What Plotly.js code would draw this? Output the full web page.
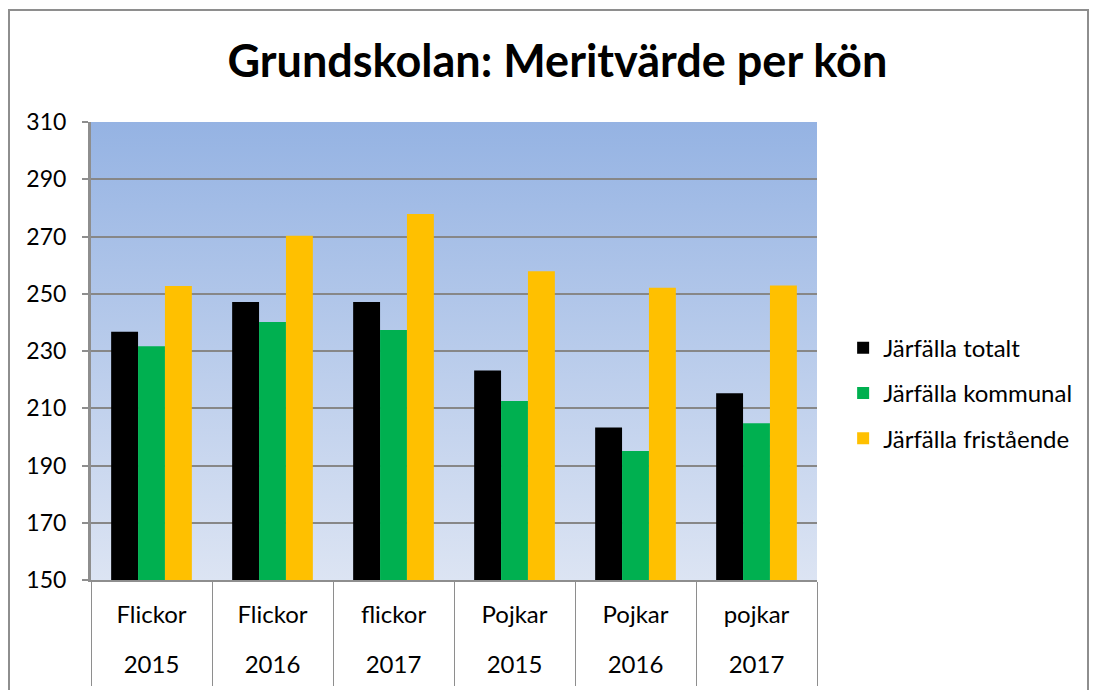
<!DOCTYPE html>
<html>
<head>
<meta charset="utf-8">
<script src="https://cdn.plot.ly/plotly-3.0.1.min.js"></script>
<style>
  html, body { margin: 0; padding: 0; background: #ffffff; }
  #wrap { position: relative; width: 1095px; height: 690px; overflow: hidden; }
  #chart { position: absolute; left: 0; top: 0; width: 1095px; height: 690px; }
  #frame { position: absolute; left: 8px; top: 9px; width: 1081px; height: 700px;
           border: 2px solid #8e8e8e; box-sizing: border-box; pointer-events: none; }
</style>
</head>
<body>
<div id="wrap">
  <div id="chart"></div>
  <div id="frame"></div>
</div>
<script>
const groups = ["Flickor", "Flickor", "flickor", "Pojkar", "Pojkar", "pojkar"];
const years = ["2015", "2016", "2017", "2015", "2016", "2017"];
const seriesNames = ["Järfälla totalt", "Järfälla kommunal", "Järfälla fristående"];
const totalt = [236.7, 247.1, 247.1, 223.2, 203.3, 215.2];
const kommunal = [231.7, 240.1, 237.3, 212.5, 195.1, 204.8];
const friststaende = [252.7, 270.3, 277.9, 257.9, 252.1, 252.9];
const colors = ["#000000", "#00b050", "#ffc000"];

const cats = groups.map((g, i) => g + " " + years[i]);
const seriesValues = [totalt, kommunal, friststaende];

const FONT = "Lato, 'Open Sans', 'DejaVu Sans', sans-serif";

const traces = seriesValues.map((vals, k) => ({
  type: "bar",
  name: seriesNames[k],
  x: cats,
  y: vals,
  marker: { color: colors[k], line: { width: 0 } },
  legendgroup: "g" + k,
  hoverinfo: "x+y+name"
}));

// helper (invisible) trace so the second-row year axis is drawn
traces.push({
  type: "scatter",
  mode: "markers",
  x: years.map((_, i) => i),
  y: years.map(() => null),
  xaxis: "x2",
  yaxis: "y",
  marker: { opacity: 0 },
  showlegend: false,
  hoverinfo: "skip"
});

const gradSvg = '<svg xmlns="http://www.w3.org/2000/svg" width="100" height="100" preserveAspectRatio="none">' +
  '<defs><linearGradient id="g" x1="0" y1="0" x2="0" y2="1">' +
  '<stop offset="0" stop-color="#95b3e3"/><stop offset="1" stop-color="#dce4f3"/>' +
  '</linearGradient></defs><rect width="100" height="100" fill="url(#g)"/></svg>';
const gradUri = "data:image/svg+xml;charset=utf-8," + encodeURIComponent(gradSvg);

const layout = {
  width: 1095,
  height: 690,
  margin: { l: 91, r: 278, t: 122, b: 110, pad: 0 },
  paper_bgcolor: "rgba(0,0,0,0)",
  plot_bgcolor: "rgba(0,0,0,0)",
  font: { family: FONT, size: 20, color: "#000000" },
  title: {
    text: "<b>Grundskolan: Meritvärde per kön</b>",
    font: { family: FONT, size: 45, color: "#000000" },
    x: 0.509, xref: "container", xanchor: "center",
    y: 1 - 61 / 690, yref: "container", yanchor: "middle"
  },
  barmode: "group",
  bargap: 0.333,
  bargroupgap: 0,
  images: [{
    source: gradUri,
    xref: "paper", yref: "paper",
    x: 0, y: 1, sizex: 1, sizey: 1,
    xanchor: "left", yanchor: "top",
    sizing: "stretch", layer: "below"
  }],
  xaxis: {
    type: "category",
    tickmode: "array",
    tickvals: cats,
    ticktext: groups,
    tickson: "boundaries",
    ticks: "outside",
    ticklen: 104,
    tickwidth: 1,
    tickcolor: "#8e8e8e",
    ticklabelstandoff: 12,
    tickfont: { family: FONT, size: 24, color: "#000000" },
    showline: true,
    linecolor: "#8e8e8e",
    linewidth: 2,
    showgrid: false,
    zeroline: false,
    fixedrange: true
  },
  xaxis2: {
    overlaying: "x",
    anchor: "y",
    side: "bottom",
    type: "linear",
    range: [-0.5, groups.length - 0.5],
    autorange: false,
    tickmode: "array",
    tickvals: years.map((_, i) => i),
    ticktext: years,
    ticks: "",
    showline: false,
    showgrid: false,
    zeroline: false,
    ticklabelstandoff: 68,
    tickfont: { family: FONT, size: 24, color: "#000000" },
    fixedrange: true
  },
  yaxis: {
    range: [150, 310],
    autorange: false,
    tickmode: "linear",
    tick0: 150,
    dtick: 20,
    ticks: "outside",
    ticklen: 6,
    tickwidth: 2,
    tickcolor: "#8e8e8e",
    showline: true,
    linecolor: "#8e8e8e",
    linewidth: 3,
    showgrid: true,
    gridcolor: "#878787",
    gridwidth: 2,
    zeroline: false,
    tickfont: { family: FONT, size: 23, color: "#000000" },
    ticklabelstandoff: 11,
    fixedrange: true
  },
  showlegend: true,
  legend: {
    x: 1.036, xanchor: "left",
    y: 0.408, yanchor: "middle",
    font: { family: FONT, size: 24, color: "#000000" },
    bgcolor: "rgba(0,0,0,0)",
    traceorder: "grouped",
    tracegroupgap: 11,
    itemwidth: 30
  }
};

Plotly.newPlot("chart", traces, layout, { displayModeBar: false, staticPlot: true });
</script>
</body>
</html>
